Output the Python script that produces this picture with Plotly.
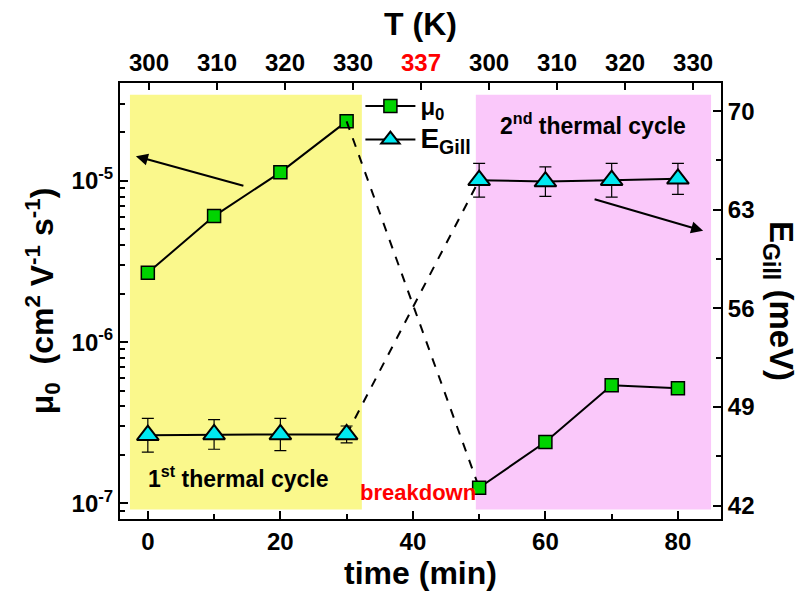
import plotly.graph_objects as go

# ---- data ----
time1 = [0, 10, 20, 30]
time2 = [50, 60, 70, 80]
mu1 = [2.69e-6, 6.05e-6, 1.13e-5, 2.34e-5]
mu2 = [1.25e-7, 2.4e-7, 5.4e-7, 5.18e-7]
eg1 = [47.0, 47.05, 47.05, 47.05]
eg2 = [65.1, 65.0, 65.1, 65.2]
eg1_err = [1.2, 1.05, 1.15, 0.6]
eg2_err = [1.2, 1.05, 1.2, 1.1]
temp_pos = [0, 1, 2, 3, 4, 5, 6, 7, 8]
temp_labels = ["300", "310", "320", "330", "337", "300", "310", "320", "330"]
left_ticks = [1e-7, 1e-6, 1e-5]
left_ticktext = ["10<sup>-7</sup>", "10<sup>-6</sup>", "10<sup>-5</sup>"]
right_ticks = [42, 49, 56, 63, 70]
time_ticks = [0, 20, 40, 60, 80]

FONT = "Liberation Sans"
GREEN = "#00D400"
CYAN = "#00E8F0"

minor_log = [m * 10 ** e for e in (-8, -7, -6, -5) for m in range(2, 10)]

fig = go.Figure()

# shaded regions
fig.add_shape(type="rect", xref="x", yref="paper", x0=-2.7, x1=32.3, y0=0.022, y1=0.973,
              fillcolor="rgb(250,248,140)", line_width=0, layer="below")
fig.add_shape(type="rect", xref="x", yref="paper", x0=49.5, x1=85.0, y0=0.022, y1=0.973,
              fillcolor="rgb(250,200,250)", line_width=0, layer="below")

# mu0 traces
fig.add_trace(go.Scatter(x=time1, y=mu1, mode="lines+markers",
                         name='<span style="font-size:24px">μ<sub>0</sub></span>',
                         line=dict(color="black", width=2),
                         marker=dict(symbol="square", size=13, color=GREEN,
                                     line=dict(color="black", width=1.5)),
                         legendgroup="mu"))
fig.add_trace(go.Scatter(x=[time1[-1], time2[0]], y=[mu1[-1], mu2[0]], mode="lines",
                         line=dict(color="black", width=2, dash="dash"),
                         showlegend=False))
fig.add_trace(go.Scatter(x=time2, y=mu2, mode="lines+markers", showlegend=False,
                         line=dict(color="black", width=2),
                         marker=dict(symbol="square", size=13, color=GREEN,
                                     line=dict(color="black", width=1.5))))

# EGill traces (right axis)
fig.add_trace(go.Scatter(x=[time1[-1], time2[0]], y=[eg1[-1], eg2[0]], mode="lines",
                         line=dict(color="black", width=2, dash="dash"),
                         showlegend=False, yaxis="y2"))
fig.add_trace(go.Scatter(x=time1, y=eg1, mode="lines+markers",
                         name='<span style="font-size:28px">E<sub>Gill</sub></span>',
                         line=dict(color="black", width=2),
                         marker=dict(symbol="triangle-up", size=19, color=CYAN,
                                     line=dict(color="black", width=2)),
                         error_y=dict(type="data", array=eg1_err, color="black",
                                      thickness=1.2, width=6),
                         yaxis="y2"))
fig.add_trace(go.Scatter(x=time2, y=eg2, mode="lines+markers", showlegend=False,
                         line=dict(color="black", width=2),
                         marker=dict(symbol="triangle-up", size=19, color=CYAN,
                                     line=dict(color="black", width=2)),
                         error_y=dict(type="data", array=eg2_err, color="black",
                                      thickness=1.2, width=6),
                         yaxis="y2"))

# dummy trace to activate top axis
fig.add_trace(go.Scatter(x=[temp_pos[0]], y=[None], xaxis="x2", showlegend=False,
                         hoverinfo="skip"))

tickfont = dict(family=FONT, size=24, color="black", weight="bold")
titlefont = dict(family=FONT, size=32, color="black", weight="bold")

fig.update_layout(
    width=811, height=593,
    margin=dict(l=120, r=90, t=83, b=71),
    paper_bgcolor="white", plot_bgcolor="white",
    font=dict(family=FONT, color="black"),
    xaxis=dict(range=[-4.2, 86.5], tickvals=time_ticks, ticks="inside", ticklen=8,
               tickwidth=1.5, tickcolor="black",
               minor=dict(tickvals=[10, 30, 50, 70], ticks="inside", ticklen=5,
                          tickwidth=1.5, tickcolor="black"),
               showline=True, linecolor="black", linewidth=2, showgrid=False,
               zeroline=False, tickfont=tickfont,
               title=dict(text="time (min)", font=titlefont, standoff=4)),
    xaxis2=dict(overlaying="x", side="top", range=[-0.426, 8.41], tickvals=temp_pos,
                ticktext=[('<span style="color:red">%s</span>' % t) if t == "337" else t
                          for t in temp_labels],
                ticks="inside", ticklen=7, tickwidth=1.5, tickcolor="black",
                showline=True, linecolor="black", linewidth=2, showgrid=False,
                zeroline=False, tickfont=tickfont,
                title=dict(text="T (K)", font=titlefont, standoff=4)),
    yaxis=dict(type="log", range=[-7.097, -4.393], tickvals=left_ticks,
               ticktext=left_ticktext, ticks="inside", ticklen=8, tickwidth=1.5,
               tickcolor="black",
               minor=dict(tickvals=minor_log, ticks="inside", ticklen=5, tickwidth=1.5,
                          tickcolor="black"),
               showline=True, linecolor="black", linewidth=2, showgrid=False,
               zeroline=False, tickfont=tickfont,
               title=dict(text="μ<sub>0</sub>  (cm<sup>2</sup> V<sup>-1</sup> s<sup>-1</sup>)",
                          font=titlefont, standoff=8)),
    yaxis2=dict(overlaying="y", side="right", range=[41.05, 72.0], tickvals=right_ticks,
                ticks="inside", ticklen=8, tickwidth=1.5, tickcolor="black",
                minor=dict(tickvals=[45.5, 52.5, 59.5, 66.5], ticks="inside", ticklen=5,
                           tickwidth=1.5, tickcolor="black"),
                showline=True, linecolor="black", linewidth=2, showgrid=False,
                zeroline=False, tickfont=tickfont),
    legend=dict(x=0.40, y=0.995, xanchor="left", yanchor="top", bgcolor="rgba(0,0,0,0)",
                font=dict(family=FONT, size=22, color="black", weight="bold"),
                tracegroupgap=2, itemwidth=50),
    showlegend=True,
)

annots = [
    dict(text="E<sub>Gill</sub> (meV)", xref="paper", yref="paper", x=1.0, y=0.5,
         xshift=58, textangle=90, showarrow=False,
         font=dict(family=FONT, size=33, color="black", weight="bold"),
         xanchor="center", yanchor="middle"),
    dict(text="2<sup>nd</sup> thermal cycle", xref="x", yref="paper", x=67.2, y=0.945,
         showarrow=False, font=dict(family=FONT, size=23, color="black", weight="bold")),
    dict(text="1<sup>st</sup> thermal cycle", xref="x", yref="paper", x=13.7, y=0.058,
         showarrow=False, font=dict(family=FONT, size=23, color="black", weight="bold")),
    dict(text="breakdown", xref="x", yref="paper", x=40.8, y=0.028, showarrow=False,
         font=dict(family=FONT, size=22, color="red", weight="bold")),
    dict(text="", xref="x", yref="paper", x=-1.8, y=0.832, ax=109, ay=30,
         showarrow=True, arrowhead=2, arrowsize=1.2, arrowwidth=2, arrowcolor="black"),
    dict(text="", xref="x", yref="paper", x=83.8, y=0.661, ax=-110, ay=-32,
         showarrow=True, arrowhead=2, arrowsize=1.2, arrowwidth=2, arrowcolor="black"),
]
fig.update_layout(annotations=annots)

fig.write_html("out.html")
